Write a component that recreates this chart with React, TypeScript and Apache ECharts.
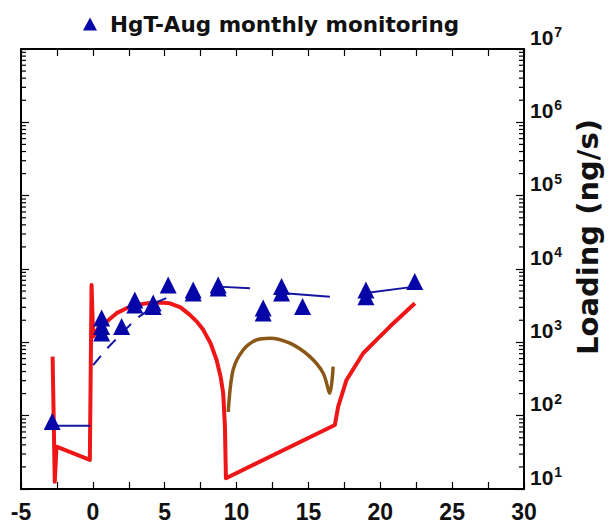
import React, { useEffect, useRef } from "react";
import * as echarts from "echarts";

// ---- data ----
const redX = [-2.8, -2.65, -2.53, -0.21, -0.09, 0.02, 0.37, 0.95, 1.65, 2.35, 3.1, 3.97, 4.7, 5.36, 6.1, 6.75, 7.25, 7.68, 8.19, 8.61, 8.89, 9.07, 9.19, 9.26, 16.84, 17.07, 17.65, 18.81, 19.74, 20.67, 22.41];
const redY = [638, 12.6, 37.8, 24.9, 6030, 1200, 1550, 1910, 2500, 2920, 3250, 3450, 3500, 3400, 3000, 2370, 1900, 1480, 973, 575, 340, 202, 71, 14, 74.7, 133, 307, 710, 1080, 1640, 3410];

const brownX = [9.42, 9.76, 10.46, 11.39, 12.32, 13.71, 15.1, 16.03, 16.49, 16.72];
const brownY = [113, 420, 787, 1080, 1140, 973, 638, 379, 202, 466];

const obsX = [-2.83, 0.61, 0.61, 0.61, 2.0, 2.92, 2.92, 4.2, 4.2, 5.24, 6.98, 6.98, 8.72, 8.72, 11.85, 11.85, 13.13, 13.13, 14.59, 19.0, 19.0, 22.4];
const obsY = [83, 2150, 1640, 1340, 1640, 3790, 3240, 3440, 3070, 6070, 5190, 4720, 6070, 5520, 2940, 2520, 5750, 4720, 3070, 5190, 4200, 6730];

const blueDashX = [0.02, 1.07, 3.04, 3.74, 4.54, 5.36];
const blueDashY = [490, 857, 2130, 2620, 3590, 4200];

const blueSegAX = [-2.83, -0.2];
const blueSegAY = [73, 73];
const blueSegCX = [8.72, 10.93];
const blueSegCY = [5750, 5470];
const blueSegDX = [13.13, 16.49];
const blueSegDY = [4700, 4200];
const blueSegEX = [19.0, 22.4];
const blueSegEY = [4700, 5750];

const xTicks = [-5, 0, 5, 10, 15, 20, 25, 30];
const yDecades = [1, 2, 3, 4, 5, 6, 7];
const legendName = "HgT-Aug monthly monitoring";
const yName = "Loading (ng/s)";

const pairs = (xs: number[], ys: number[]) => xs.map((x, i) => [x, ys[i]]);

const xMin = xTicks[0];
const xMax = xTicks[xTicks.length - 1];
const yMin = Math.pow(10, yDecades[0]);
const yMax = Math.pow(10, yDecades[yDecades.length - 1]);

const minorTickVals: number[] = [];
for (let d = yDecades[0]; d < yDecades[yDecades.length - 1]; d++) {
  for (let m = 2; m <= 9; m++) minorTickVals.push(m * Math.pow(10, d));
}

const RED = "#ee1616";
const BROWN = "#8a5716";
const BLUE = "#1414a0";
const MARK = "#0606a8";

export default function App() {
  const ref = useRef<HTMLDivElement>(null);
  useEffect(() => {
    if (!ref.current) return;
    const chart = echarts.init(ref.current, null, { renderer: "svg" });
    const lineSeg = (xs: number[], ys: number[], dashed = false) => ({
      type: "line",
      data: pairs(xs, ys),
      showSymbol: false,
      symbol: "none",
      lineStyle: { color: BLUE, width: 2, type: dashed ? [12, 10] : "solid" },
      z: 3,
      silent: true,
    });
    const xAxisBase = {
      type: "value",
      min: xMin,
      max: xMax,
      interval: 5,
      splitLine: { show: false },
      axisLine: { show: true, onZero: false, lineStyle: { color: "#000", width: 1.5 } },
      axisTick: { show: true, inside: true, length: 7, lineStyle: { color: "#000", width: 1.2 } },
      minorTick: { show: true, splitNumber: 2, length: 7, lineStyle: { color: "#000", width: 1.2 } },
    };
    const yAxisBase = {
      type: "log",
      logBase: 10,
      min: yMin,
      max: yMax,
      splitLine: { show: false },
      axisLine: { show: true, onZero: false, lineStyle: { color: "#000", width: 1.5 } },
      axisTick: { show: true, inside: true, length: 8, lineStyle: { color: "#000", width: 1.2 } },
    };
    chart.setOption({
      animation: false,
      backgroundColor: "#fff",
      grid: {
        left: 21,
        right: 87,
        top: 49,
        bottom: 37,
        containLabel: false,
        outerBoundsMode: "none",
        show: true,
        borderColor: "#000",
        borderWidth: 1.5,
        backgroundColor: "transparent",
      },
      legend: {
        data: [legendName],
        left: 78,
        top: 8,
        icon: "triangle",
        itemWidth: 14,
        itemHeight: 13,
        textStyle: {
          fontFamily: "DejaVu Sans",
          fontWeight: "bold",
          fontSize: 21.5,
          color: "#111",
          padding: [0, 0, 0, 8],
        },
      },
      xAxis: [
        {
          ...xAxisBase,
          position: "bottom",
          axisLabel: {
            fontFamily: "Liberation Sans",
            fontWeight: "bold",
            fontSize: 23,
            color: "#111",
            margin: 11,
          },
        },
        { ...xAxisBase, position: "top", axisLabel: { show: false } },
      ],
      yAxis: [
        {
          ...yAxisBase,
          position: "right",
          name: yName,
          nameLocation: "middle",
          nameRotate: 90,
          nameGap: 47,
          nameTextStyle: {
            fontFamily: "DejaVu Sans",
            fontWeight: "bold",
            fontSize: 29,
            color: "#111",
            padding: [0, 0, 0, 64],
          },
          axisLabel: {
            margin: 6,
            verticalAlign: "bottom",
            formatter: (v: number) => `{b|10}{s|${Math.round(Math.log10(v))}}`,
            rich: {
              b: { fontFamily: "Liberation Sans", fontWeight: "bold", fontSize: 21, color: "#111" },
              s: { fontFamily: "Liberation Sans", fontWeight: "bold", fontSize: 14, color: "#111", padding: [0, 0, 10, 1] },
            },
          },
        },
        { ...yAxisBase, position: "left", axisLabel: { show: false } },
      ],
      series: [
        {
          type: "custom",
          silent: true,
          clip: false,
          data: minorTickVals.map((v) => [xMin, v]),
          renderItem: (params: any, api: any) => {
            const v = api.value(1);
            const pl = api.coord([xMin, v]);
            const pr = api.coord([xMax, v]);
            const st = { stroke: "#000", lineWidth: 1.2 };
            return {
              type: "group",
              children: [
                { type: "line", shape: { x1: pl[0], y1: pl[1], x2: pl[0] + 5, y2: pl[1] }, style: st },
                { type: "line", shape: { x1: pr[0], y1: pr[1], x2: pr[0] - 5, y2: pr[1] }, style: st },
              ],
            };
          },
          z: 1,
        },
        {
          type: "custom",
          silent: true,
          clip: false,
          data: [[xMin, yMin]],
          renderItem: (params: any, api: any) => {
            const a = api.coord([xMin, yMin]);
            const b = api.coord([xMax, yMax]);
            return {
              type: "polygon",
              shape: { points: [[a[0], a[1]], [b[0], a[1]], [b[0], b[1]], [a[0], b[1]]] },
              style: { fill: "none", stroke: "#000", lineWidth: 1.5 },
            };
          },
          z: 6,
        },
        {
          type: "line",
          data: pairs(redX, redY),
          showSymbol: false,
          symbol: "none",
          lineStyle: { color: RED, width: 4, join: "round" },
          z: 2,
          silent: true,
        },
        {
          type: "line",
          data: pairs(brownX, brownY),
          showSymbol: false,
          symbol: "none",
          smooth: 0.3,
          lineStyle: { color: BROWN, width: 3.5 },
          z: 2,
          silent: true,
        },
        lineSeg(blueSegAX, blueSegAY),
        lineSeg(blueDashX, blueDashY, true),
        lineSeg(blueSegCX, blueSegCY),
        lineSeg(blueSegDX, blueSegDY),
        lineSeg(blueSegEX, blueSegEY),
        {
          name: legendName,
          type: "scatter",
          data: pairs(obsX, obsY),
          symbol: "triangle",
          symbolSize: 17,
          itemStyle: { color: MARK, opacity: 1 },
          z: 5,
        },
      ],
    });
    return () => chart.dispose();
  }, []);
  return (
    <div
      ref={ref}
      style={{ position: "fixed", left: 0, top: 0, width: 611, height: 526, background: "#fff" }}
    />
  );
}
